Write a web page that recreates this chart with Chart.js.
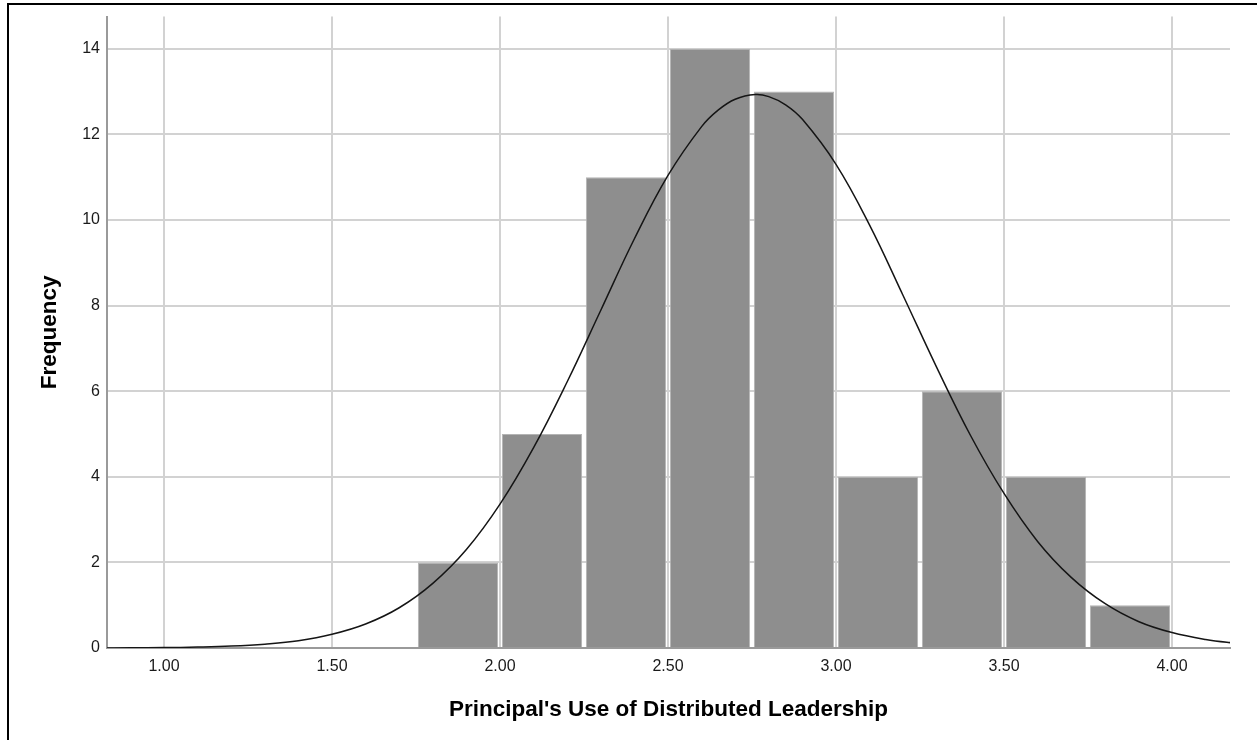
<!doctype html>
<html>
<head>
<meta charset="utf-8">
<title>Principal's Use of Distributed Leadership</title>
<script src="https://cdn.jsdelivr.net/npm/chart.js"></script>
<style>
  html,body{margin:0;padding:0;background:#fff;overflow:hidden}
  .wrap{position:relative;width:1257px;height:740px}
  .frame{position:absolute;left:7px;top:3px;width:1400px;height:900px;border-top:2px solid #000;border-left:2px solid #000}
  canvas{position:absolute;left:0;top:0}
</style>
</head>
<body>
<div class="wrap">
  <div class="frame"></div>
  <canvas id="chart" width="1257" height="740"></canvas>
</div>
<script>
// histogram bins (0.25 wide) and counts
const binCenters = [1.875, 2.125, 2.375, 2.625, 2.875, 3.125, 3.375, 3.625, 3.875];
const counts = [2, 5, 11, 14, 13, 4, 6, 4, 1];

// normal curve, values
const curveX = [0.8, 0.9, 1.0, 1.1, 1.2, 1.3, 1.4, 1.5, 1.6, 1.7, 1.8, 1.9, 2.0, 2.1, 2.2, 2.3, 2.4, 2.5, 2.6, 2.65, 2.7, 2.76, 2.8, 2.85, 2.9, 3.0, 3.1, 3.2, 3.3, 3.4, 3.5, 3.6, 3.7, 3.8, 3.9, 4.0, 4.1, 4.2];
const curveY = [0.002, 0.004, 0.009, 0.021, 0.044, 0.09, 0.17, 0.32, 0.56, 0.94, 1.51, 2.30, 3.36, 4.68, 6.22, 7.89, 9.56, 11.04, 12.18, 12.57, 12.82, 12.93, 12.88, 12.69, 12.35, 11.30, 9.88, 8.23, 6.55, 4.97, 3.61, 2.49, 1.65, 1.04, 0.62, 0.36, 0.20, 0.10];

const xTicksMin = 0.8304, xTicksMax = 4.1726;
const yMax = 14.75;

const xTitle = "Principal's Use of Distributed Leadership";
const yTitle = 'Frequency';

const ctx = document.getElementById('chart').getContext('2d');
new Chart(ctx, {
  type: 'bar',
  data: {
    datasets: [
      {
        type: 'line',
        order: 0,
        data: curveX.map((x, i) => ({ x: x, y: curveY[i] })),
        borderColor: '#151515',
        borderWidth: 1.5,
        pointRadius: 0,
        tension: 0.4,
        fill: false
      },
      {
        type: 'bar',
        order: 1,
        data: binCenters.map((x, i) => ({ x: x, y: counts[i] })),
        backgroundColor: '#8e8e8e',
        borderColor: '#b4b4b4',
        borderWidth: 1,
        barPercentage: 0.955,
        categoryPercentage: 1
      }
    ]
  },
  options: {
    responsive: false,
    animation: false,
    layout: { padding: { left: 0, top: 15, right: 27, bottom: 0 } },
    plugins: { legend: { display: false }, tooltip: { enabled: false } },
    scales: {
      x: {
        type: 'linear',
        min: xTicksMin,
        max: xTicksMax,
        offset: false,
        afterFit: s => { s.height = 92; },
        grid: { offset: false, color: '#d2d2d2', lineWidth: 2, drawTicks: false },
        border: { color: '#9a9a9a', width: 2 },
        ticks: {
          stepSize: 0.5,
          includeBounds: false,
          padding: 9,
          maxRotation: 0,
          autoSkip: false,
          color: '#1a1a1a',
          font: { family: 'Arial, "Liberation Sans", sans-serif', size: 16 },
          callback: v => Number(v).toFixed(2)
        },
        title: {
          display: true,
          text: xTitle,
          color: '#000',
          font: { family: 'Arial, "Liberation Sans", sans-serif', size: 22.5, weight: 'bold' },
          padding: { top: 0, bottom: 17 }
        }
      },
      y: {
        min: 0,
        max: yMax,
        afterFit: s => { s.width = 107; },
        grid: { color: '#d2d2d2', lineWidth: 2, drawTicks: false },
        border: { color: '#9a9a9a', width: 2 },
        ticks: {
          stepSize: 2,
          includeBounds: false,
          padding: 7,
          color: '#1a1a1a',
          font: { family: 'Arial, "Liberation Sans", sans-serif', size: 16 }
        },
        title: {
          display: true,
          text: yTitle,
          color: '#000',
          font: { family: 'Arial, "Liberation Sans", sans-serif', size: 22.5, weight: 'bold' },
          padding: { top: 36, bottom: 0 }
        }
      }
    }
  }
});
</script>
</body>
</html>
